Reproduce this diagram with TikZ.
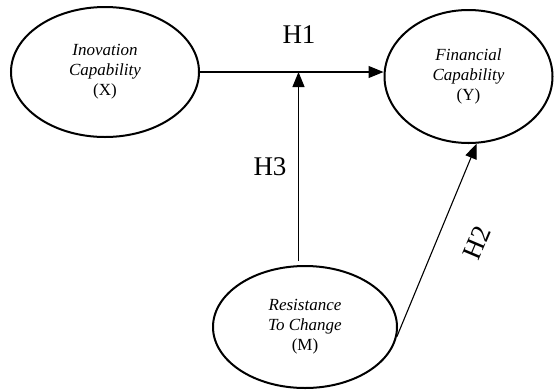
\documentclass[tikz,border=0pt]{standalone}
\usepackage{fontspec}
\setmainfont{Liberation Serif}
\usetikzlibrary{calc}
\usetikzlibrary{positioning, shapes, arrows.meta}

\tikzset{
  var/.style={ellipse, draw, line width=2pt, inner sep=0pt, align=center,
    font=\fontsize{17}{20}\selectfont},
  hyp/.style={font=\fontsize{27}{29}\selectfont},
  link/.style={line width=1.1pt, -{Triangle[length=15pt,width=12pt]}}
}

\begin{document}
\begin{tikzpicture}[x=1pt,y=-1pt]
\useasboundingbox (0,0) rectangle (554,389);
\node [var, minimum width=188pt, minimum height=130pt] (X) at (105,72)
        {\textit{Inovation}\\\textit{Capability}\\(X)};
\node [var, minimum width=168pt, minimum height=133pt] (Y) at (468.5,76.5)
        {\textit{Financial}\\\textit{Capability}\\(Y)};
\node [var, minimum width=184pt, minimum height=122pt] (M) at (305,327)
        {\textit{Resistance}\\\textit{To Change}\\(M)};
\coordinate (hit) at (298.5,72);
\draw [link] (X.east) -- (X.east -| Y.west);
\draw [link] ($(hit |- M.north)+(0,-4)$) -- (hit);
\draw [link] (M.-6) -- (Y.-83);
\node [hyp] (h1) at (299,35) {H1};
\node [hyp] (h3) at (270,167) {H3};
\node [hyp, rotate=67] (h2) at (477,243) {H2};
\end{tikzpicture}
\end{document}
